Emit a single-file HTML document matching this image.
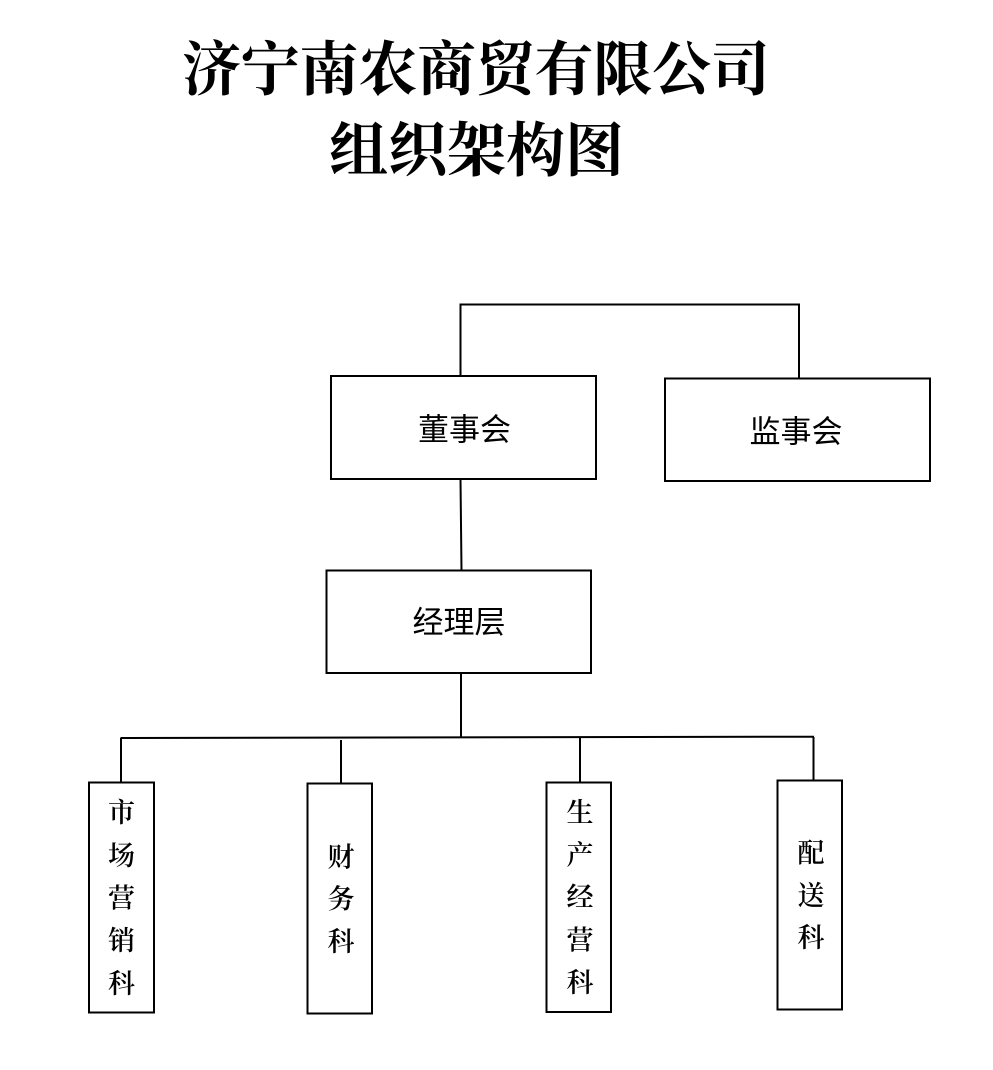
<!DOCTYPE html>
<html>
<head>
<meta charset="utf-8">
<style>
  html, body { margin:0; padding:0; background:#fff; }
  body { width:993px; height:1070px; overflow:hidden; }
  svg { display:block; }
  .title { font-family: "Liberation Serif", "Noto Serif CJK SC", serif; font-weight:700; font-size:59px; fill:#000; }
  .lbl { font-family: "Liberation Sans", "Noto Sans CJK SC", sans-serif; font-size:31px; fill:#000; }
  .vl { font-family: "Liberation Serif", "Noto Serif CJK SC", serif; font-size:27px; font-weight:600; fill:#000; }
</style>
</head>
<body>
<svg width="993" height="1070" viewBox="0 0 993 1070" xmlns="http://www.w3.org/2000/svg">
  <rect width="993" height="1070" fill="#fff"/>

  <!-- Title -->
  <text class="title" x="182" y="70" dominant-baseline="central" textLength="588" lengthAdjust="spacing">济宁南农商贸有限公司</text>
  <text class="title" x="329" y="151" dominant-baseline="central" textLength="295" lengthAdjust="spacing">组织架构图</text>

  <g fill="none" stroke="#000" stroke-width="2">
    <!-- top connector between boards -->
    <path d="M460.5 376 V304.5 H799 V378.5"/>
    <!-- boxes -->
    <rect x="331" y="376" width="265" height="103"/>
    <rect x="665" y="378.5" width="265" height="102.5"/>
    <rect x="326.5" y="570.5" width="264.5" height="102.5"/>
    <!-- board to management -->
    <path d="M460.5 479 L461.5 570.5"/>
    <!-- management down -->
    <path d="M461 673 V737.5"/>
    <!-- horizontal bus -->
    <path d="M120.5 738 L814 736.7"/>
    <!-- drops -->
    <path d="M121 738 V782.5"/>
    <path d="M341 740 V783.5"/>
    <path d="M580 737.5 V782.5"/>
    <path d="M813.5 737 V780.5"/>
    <!-- bottom boxes -->
    <rect x="89" y="782.5" width="65" height="230"/>
    <rect x="307.5" y="783.5" width="64.5" height="230"/>
    <rect x="546.5" y="782.5" width="64.5" height="229.5"/>
    <rect x="777.5" y="780.5" width="64.5" height="229"/>
  </g>

  <!-- Box labels -->
  <text class="lbl" x="464.5" y="430" text-anchor="middle" dominant-baseline="central">董事会</text>
  <text class="lbl" x="796" y="432" text-anchor="middle" dominant-baseline="central">监事会</text>
  <text class="lbl" x="459" y="622.5" text-anchor="middle" dominant-baseline="central">经理层</text>

  <!-- 市场营销科 -->
  <g class="vl" text-anchor="middle" dominant-baseline="central">
    <text x="121.5" y="813">市</text>
    <text x="121.5" y="856">场</text>
    <text x="121.5" y="898.5">营</text>
    <text x="121.5" y="941">销</text>
    <text x="121.5" y="984">科</text>
  </g>
  <!-- 财务科 -->
  <g class="vl" text-anchor="middle" dominant-baseline="central">
    <text x="341" y="857.5">财</text>
    <text x="341" y="899.5">务</text>
    <text x="341" y="942">科</text>
  </g>
  <!-- 生产经营科 -->
  <g class="vl" text-anchor="middle" dominant-baseline="central">
    <text x="580" y="813">生</text>
    <text x="580" y="855.5">产</text>
    <text x="580" y="897.5">经</text>
    <text x="580" y="940.5">营</text>
    <text x="580" y="983">科</text>
  </g>
  <!-- 配送科 -->
  <g class="vl" text-anchor="middle" dominant-baseline="central">
    <text x="811" y="853.5">配</text>
    <text x="811" y="896">送</text>
    <text x="811" y="938">科</text>
  </g>
</svg>
</body>
</html>
